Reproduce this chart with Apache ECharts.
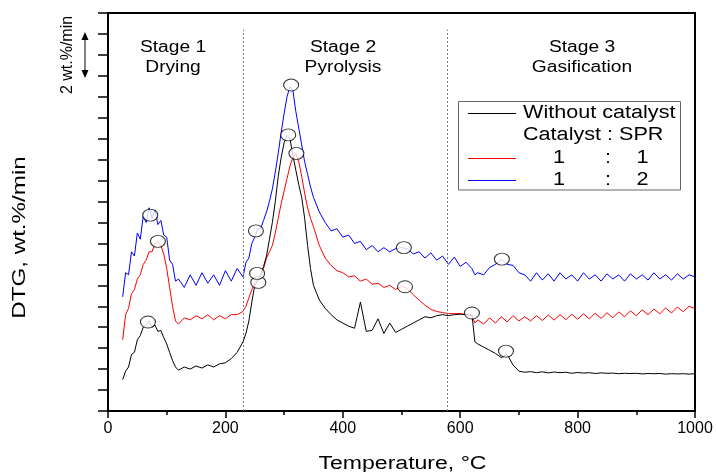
<!DOCTYPE html>
<html><head><meta charset="utf-8">
<script src="https://cdn.jsdelivr.net/npm/echarts@6/dist/echarts.min.js"></script>
<style>html,body{margin:0;padding:0;background:#fff}#c{width:716px;height:472px}</style>
</head><body><div id="c"></div>
<script>
// ---- data ----
const temps = [25,30,35,40,45,50,55,60,65,70,75,80,85,90,95,100,105,110,115,120,
130,140,150,160,170,180,190,200,210,220,230,
235,240,245,250,255,260,265,270,275,280,285,290,295,300,305,310,315,320,325,330,335,340,345,350,
360,370,380,390,400,410,420,430,440,450,460,470,480,490,500,510,520,530,540,550,560,570,580,590,600,610,620,
625,630,640,650,660,670,680,690,700,
710,720,730,740,750,760,770,780,790,800,810,820,830,840,850,860,870,880,890,900,910,920,930,940,950,960,970,980,990,1000];

const dtgWithout = [1.5,1.9,2.1,2.7,2.8,3.4,3.6,4.0,4.1,4.3,4.0,4.1,3.8,3.85,3.5,3.2,2.8,2.4,2.1,1.95,
2.1,2.0,2.15,2.05,2.2,2.1,2.25,2.3,2.5,2.8,3.3,
3.7,4.3,5.2,6.0,6.2,6.5,6.9,7.4,8.2,9.0,10.0,11.2,12.1,12.8,13.15,13.0,12.2,11.5,10.8,10.2,9.2,7.9,6.8,6.0,
5.3,4.9,4.6,4.35,4.2,4.05,3.95,5.2,3.8,3.85,4.4,3.7,4.2,3.75,3.9,4.05,4.2,4.35,4.5,4.45,4.55,4.6,4.55,4.6,4.62,4.6,4.6,
3.3,3.2,3.05,2.9,2.75,2.55,2.7,2.2,1.9,
1.85,1.88,1.83,1.87,1.82,1.86,1.83,1.85,1.8,1.84,1.81,1.83,1.79,1.82,1.8,1.81,1.78,1.8,1.79,1.8,1.77,1.79,1.78,1.79,1.76,1.78,1.77,1.78,1.76,1.78];

const dtgRatio11 = [3.4,4.6,4.9,5.6,5.8,6.3,6.5,7.0,7.2,7.6,7.6,8.0,8.1,7.9,7.5,6.8,5.9,5.0,4.3,4.15,
4.45,4.35,4.55,4.4,4.6,4.35,4.55,4.4,4.6,4.6,4.75,
5.0,5.4,5.8,6.1,6.3,6.45,6.8,7.3,7.6,7.9,8.5,9.2,9.9,10.5,11.1,11.7,12.1,12.3,11.9,11.2,10.4,9.7,9.2,8.8,
7.9,7.3,6.95,6.7,6.6,6.4,6.45,6.2,6.3,6.05,6.1,5.9,6.0,5.8,5.95,5.85,5.55,5.3,5.05,4.85,4.75,4.7,4.65,4.65,4.65,4.6,4.55,
4.2,4.35,4.15,4.45,4.2,4.5,4.25,4.55,4.3,
4.5,4.3,4.55,4.32,4.58,4.34,4.6,4.36,4.62,4.38,4.64,4.4,4.67,4.42,4.69,4.45,4.73,4.5,4.78,4.55,4.83,4.6,4.87,4.64,4.92,4.68,4.96,4.74,5.0,4.88];

const dtgRatio12 = [5.45,6.6,6.5,7.6,7.4,8.5,8.2,9.3,9.0,9.7,9.2,9.6,8.9,9.1,8.4,8.3,7.2,7.0,6.2,6.3,
5.9,6.5,6.0,6.6,6.1,6.5,6.0,6.7,6.2,6.8,6.4,
7.1,7.3,8.0,8.3,8.7,8.7,9.1,9.5,10.0,10.6,11.4,12.3,13.3,14.2,15.0,15.5,15.3,14.3,13.5,12.7,11.9,11.3,10.7,10.2,
9.5,9.0,8.6,8.7,8.3,8.4,8.0,8.1,7.7,7.9,7.6,7.8,7.6,7.75,7.8,7.75,7.5,7.6,7.3,7.55,7.2,7.4,7.0,7.35,6.9,7.1,6.8,
6.5,6.6,6.5,6.85,7.0,7.25,7.0,6.95,6.6,
6.5,6.2,6.6,6.25,6.55,6.2,6.6,6.3,6.5,6.2,6.6,6.3,6.5,6.2,6.55,6.3,6.5,6.2,6.55,6.3,6.5,6.25,6.6,6.3,6.5,6.25,6.55,6.3,6.5,6.4];

// open-circle annotations [temperature, DTG]
const marksWithout = [[68,4.25],[256,6.14],[307,13.18],[620,4.68],[678,2.86]];
const marksRatio11 = [[85,8.1],[254,6.57],[321,12.3],[506,5.93]];
const marksRatio12 = [[72,9.35],[252,8.6],[312,15.56],[504,7.8],[671,7.25]];

const stageBounds = [230, 578];
const stageNames = ['Stage 1','Stage 2','Stage 3'];
const stageSub = ['Drying','Pyrolysis','Gasification'];
const legendTexts = ['Without catalyst','Catalyst : SPR'];
const ratioRows = [['1',':','1'],['1',':','2']];

// ---- chart ----
const FONT = '"Liberation Sans", Arial, sans-serif';
const chart = echarts.init(document.getElementById('c'));
const pairs = v => temps.map((t,i)=>[t,v[i]]);

function txt(str, x, y, size, sx, align, rot){
  return {type:'text', x:x, y:y, scaleX:sx, rotation:rot||0, z:100,
    style:{text:str, x:0, y:0, fill:'#000', fontSize:size, fontFamily:FONT,
      textAlign:align||'center', textVerticalAlign:'middle'}};
}
const stageX = [173, 343, 582];
const graphics = [];
stageNames.forEach((s,i)=>{
  graphics.push(txt(s, stageX[i], 48, 16, 1.2));
  graphics.push(txt(stageSub[i], stageX[i], 67.5, 16, 1.2));
});
// axis titles
graphics.push(txt('Temperature, °C', 402.5, 464, 18, 1.28));
graphics.push(txt('DTG, wt.%/min', 20, 237.5, 17.5, 1.38, 'center', Math.PI/2));
// scale bar
graphics.push(txt('2 wt.%/min', 68, 55, 16, 1.0, 'center', Math.PI/2));
graphics.push({type:'line', z:100, shape:{x1:85,y1:38,x2:85,y2:72}, style:{stroke:'#000', lineWidth:1}});
graphics.push({type:'polygon', z:100, shape:{points:[[85,32],[81.5,40],[88.5,40]]}, style:{fill:'#000'}});
graphics.push({type:'polygon', z:100, shape:{points:[[85,78],[81.5,70],[88.5,70]]}, style:{fill:'#000'}});
// legend box
graphics.push({type:'rect', z:99, shape:{x:458.5,y:101.5,width:222,height:88.5}, style:{fill:'#fff', stroke:'#666', lineWidth:1}});
graphics.push({type:'line', z:100, shape:{x1:468,y1:113.5,x2:516,y2:113.5}, style:{stroke:'#000', lineWidth:1}});
graphics.push({type:'line', z:100, shape:{x1:468,y1:158.5,x2:516,y2:158.5}, style:{stroke:'#ff0000', lineWidth:1}});
graphics.push({type:'line', z:100, shape:{x1:468,y1:180.5,x2:516,y2:180.5}, style:{stroke:'#0000ff', lineWidth:1}});
graphics.push(txt(legendTexts[0], 523, 113, 18, 1.2, 'left'));
graphics.push(txt(legendTexts[1], 523, 135, 18, 1.2, 'left'));
const rowY = [158, 180], colX = [559, 608, 642.5];
ratioRows.forEach((r,j)=> r.forEach((c,k)=> graphics.push(txt(c, colX[k], rowY[j], 18, 1.2))));

const markSeries = (d) => ({type:'scatter', data:d, symbol:'circle', symbolSize:[15,12], z:10,
  itemStyle:{color:'#fff', borderColor:'#000', borderWidth:1}, silent:true});

chart.setOption({
  animation:false,
  backgroundColor:'#fff',
  grid:{left:108, right:21, top:13, bottom:61, show:true, borderColor:'#000', borderWidth:2, backgroundColor:'transparent'},
  xAxis:{type:'value', min:0, max:1000, interval:200,
    axisLine:{onZero:false, lineStyle:{color:'#000', width:2}},
    axisTick:{length:7, lineStyle:{color:'#000', width:1.5}},
    minorTick:{show:true, splitNumber:2, length:4, lineStyle:{color:'#000', width:1.5}},
    splitLine:{show:false},
    axisLabel:{fontSize:16, color:'#000', margin:10, fontFamily:FONT, formatter:v=>String(v)}},
  yAxis:{type:'value', min:0, max:19, interval:1,
    axisLine:{onZero:false, lineStyle:{color:'#000', width:2}},
    axisTick:{length:10, lineStyle:{color:'#000', width:1.5}},
    splitLine:{show:false},
    axisLabel:{show:false}},
  graphic:graphics,
  series:[
    {name:'Without catalyst', type:'line', data:pairs(dtgWithout), showSymbol:false, z:3,
      lineStyle:{color:'#000', width:1}, itemStyle:{color:'#000'},
      markLine:{silent:true, symbol:['none','none'], label:{show:false},
        lineStyle:{color:'#777', type:[2,2], width:1},
        data: stageBounds.map(b=>[{coord:[b,0]},{coord:[b,18.2]}])}},
    {name:'1 : 1', type:'line', data:pairs(dtgRatio11), showSymbol:false, z:2,
      lineStyle:{color:'#ff0000', width:1}, itemStyle:{color:'#ff0000'}},
    {name:'1 : 2', type:'line', data:pairs(dtgRatio12), showSymbol:false, z:2,
      lineStyle:{color:'#0000ff', width:1}, itemStyle:{color:'#0000ff'}},
    markSeries(marksWithout), markSeries(marksRatio11), markSeries(marksRatio12)
  ]
});
</script></body></html>
